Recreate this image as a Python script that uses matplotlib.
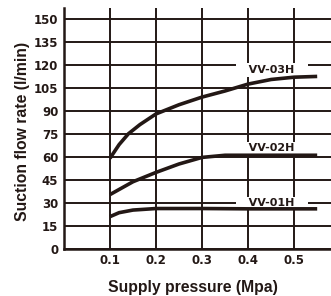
import numpy as np
import matplotlib.pyplot as plt

# values (pressure in MPa, flow in l/min)
p03 = [0.10, 0.12, 0.14, 0.165, 0.20, 0.25, 0.30, 0.35, 0.40, 0.45, 0.50, 0.55]
vv03h = [59, 68, 75, 81, 88, 94, 99, 103, 107.5, 110.5, 112, 112.5]
p02 = [0.10, 0.15, 0.20, 0.25, 0.30, 0.35, 0.40, 0.45, 0.50, 0.55]
vv02h = [35.3, 43.7, 49.8, 55.3, 59.6, 61, 61, 61, 61, 61]
p01 = [0.10, 0.12, 0.15, 0.20, 0.30, 0.40, 0.50, 0.55]
vv01h = [20.9, 23.5, 25.2, 26.2, 26.2, 26, 26, 26]

xticks = [0.1, 0.2, 0.3, 0.4, 0.5]
yticks = list(range(0, 151, 15))

ink = '#231815'
narrow = ['Liberation Sans Narrow', 'DejaVu Sans']
wide = ['Liberation Sans', 'DejaVu Sans']

fig = plt.figure(figsize=(3.31, 2.96), dpi=100)
ax = fig.add_axes([0.193, 0.16, 0.807, 0.813])

ax.set_xlim(0, 0.580)
ax.set_ylim(0, 157.2)
ax.set_xticks(xticks)
ax.set_yticks(yticks)
ax.set_xticklabels([f'{v:.1f}' for v in xticks], family=narrow, fontweight='bold', fontsize=8.5)
ax.set_yticklabels([str(v) for v in yticks], family=narrow, fontweight='bold', fontsize=8.5)
ax.tick_params(length=0, pad=4, colors=ink)

ax.grid(True, color=ink, linewidth=1.4, zorder=1)
ax.set_axisbelow(True)
for s in ['top', 'right']:
    ax.spines[s].set_visible(False)
for s in ['left', 'bottom']:
    ax.spines[s].set_color(ink)
    ax.spines[s].set_linewidth(1.8)

for xs, ys in [(p03, vv03h), (p02, vv02h), (p01, vv01h)]:
    ax.plot(xs, ys, color=ink, linewidth=2.6, solid_capstyle='butt',
            solid_joinstyle='round', zorder=4)

labels = [('VV-03H', 116.6), ('VV-02H', 65.5), ('VV-01H', 29.6)]
for name, yv in labels:
    ax.text(0.4515, yv, '   ' + name + '   ', ha='center', va='center', family=narrow,
            fontsize=8, fontweight='bold', color=ink, zorder=3,
            bbox=dict(boxstyle='square,pad=0.15', facecolor='white', edgecolor='none'))

ax.set_xlabel('Supply pressure (Mpa)', fontsize=11.3, fontweight='bold',
              family=wide, color=ink, va='center')
ax.xaxis.set_label_coords(0.483, -0.163)
ax.set_ylabel('Suction flow rate (l/min)', fontsize=11.3, fontweight='bold',
              family=wide, color=ink, va='center')
ax.yaxis.set_label_coords(-0.154, 0.485)

fig.savefig('out.png', dpi=100)
